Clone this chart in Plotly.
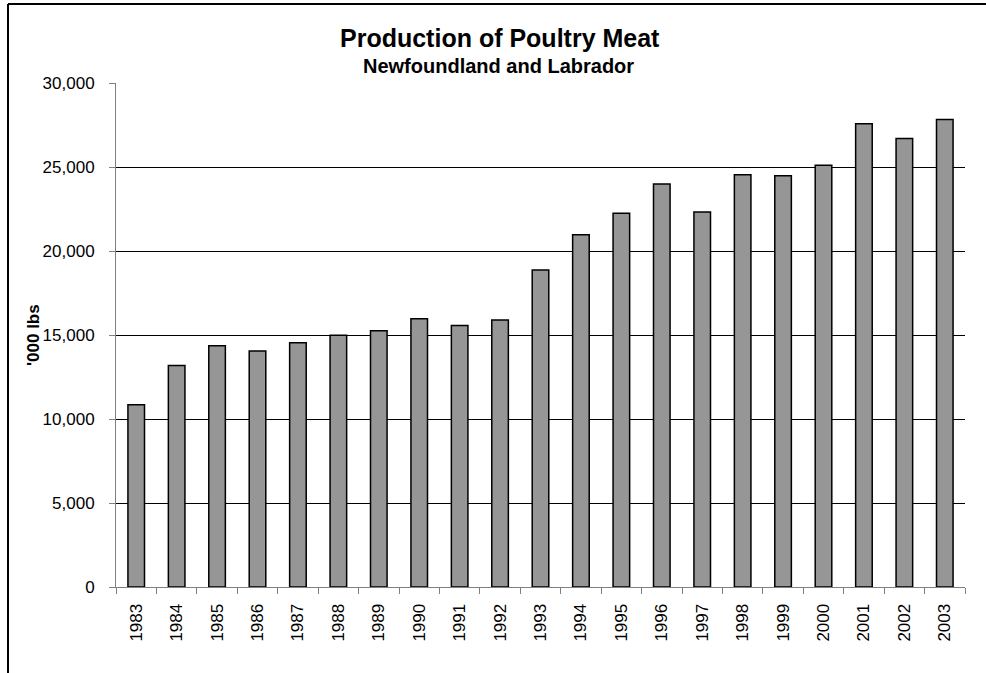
import plotly.graph_objects as go

years = [str(y) for y in range(1983, 2004)]
production = [10850, 13190, 14360, 14050, 14540, 14980, 15260, 15970, 15570, 15890,
              18870, 20970, 22240, 23990, 22320, 24540, 24480, 25100, 27580, 26690, 27830]
y_ticks = [0, 5000, 10000, 15000, 20000, 25000, 30000]

W, H = 986, 673
L, R, T, B = 116, 21, 83, 86
pw, ph = W - L - R, H - T - B

def px(x):
    return (x - L) / pw

def py(y):
    return 1 - (y - T) / ph

fig = go.Figure(go.Bar(
    x=years, y=production,
    marker=dict(color="#969696", line=dict(color="#000000", width=1.5)),
    hoverinfo="x+y",
))

font = "Liberation Sans, Arial, sans-serif"
fig.update_layout(
    width=W, height=H,
    margin=dict(l=L, r=R, t=T, b=B),
    paper_bgcolor="white", plot_bgcolor="white",
    bargap=0.59,
    showlegend=False,
    font=dict(family=font, color="#000000", size=17),
    xaxis=dict(
        type="category", tickangle=-90, tickson="boundaries",
        ticks="outside", ticklen=6, tickcolor="#808080",
        showline=True, linecolor="#808080", linewidth=1,
        showgrid=False, tickfont=dict(size=17), ticklabelstandoff=9,
    ),
    yaxis=dict(
        range=[0, 30000], tickvals=y_ticks, tickformat=",",
        ticks="outside", ticklen=6, tickcolor="#808080",
        showline=True, linecolor="#808080", linewidth=1,
        showgrid=True, gridcolor="#000000", gridwidth=1,
        tickfont=dict(size=17), ticklabelstandoff=11, zeroline=False,
    ),
    annotations=[
        dict(text="<b>Production of Poultry Meat</b>", x=px(500), y=py(38),
             xref="paper", yref="paper", showarrow=False,
             font=dict(size=25, family=font), xanchor="center", yanchor="middle"),
        dict(text="<b>Newfoundland and Labrador</b>", x=px(498), y=py(66),
             xref="paper", yref="paper", showarrow=False,
             font=dict(size=20, family=font), xanchor="center", yanchor="middle"),
        dict(text="<b>'000 lbs</b>", x=px(33), y=py(335), textangle=-90,
             xref="paper", yref="paper", showarrow=False,
             font=dict(size=17, family=font), xanchor="center", yanchor="middle"),
    ],
    shapes=[
        dict(type="line", xref="paper", yref="paper", x0=px(8), y0=py(4), x1=px(990), y1=py(4),
             line=dict(color="#000000", width=2)),
        dict(type="line", xref="paper", yref="paper", x0=px(8), y0=py(4), x1=px(8), y1=py(680),
             line=dict(color="#000000", width=2)),
    ],
)

fig.write_html("out.html", config={"displayModeBar": False},
               post_script="document.body.style.margin='0';")
